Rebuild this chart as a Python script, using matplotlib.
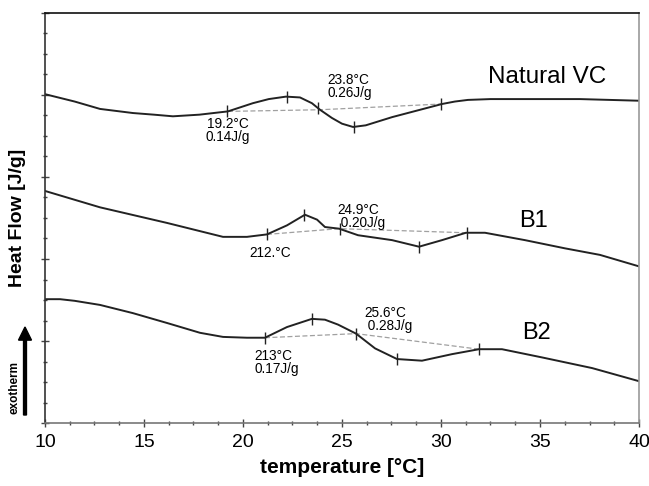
import numpy as np
import matplotlib
matplotlib.use("Agg")
import matplotlib.pyplot as plt
from matplotlib.ticker import MultipleLocator, NullFormatter

plt.rcParams['font.family'] = ['Liberation Sans', 'DejaVu Sans']

# DSC curves (temperature in degC, heat flow in arbitrary offset units)
nvc_t = [10, 11.5, 12.78, 14.44, 15.5, 16.46, 17.8, 19.24, 20.5, 21.3, 22.17, 22.88,
         23.48, 23.89, 24.49, 25.0, 25.56, 26.2, 27.53, 30.05, 30.7, 31.36, 32.5,
         34.24, 37.02, 40]
nvc_h = [4.01, 3.92, 3.83, 3.78, 3.76, 3.74, 3.76, 3.80, 3.90, 3.95, 3.98, 3.97,
         3.90, 3.82, 3.72, 3.65, 3.61, 3.63, 3.73, 3.89, 3.92, 3.94, 3.95,
         3.95, 3.95, 3.93]

b1_t = [10, 12.78, 16.16, 18.99, 20.2, 21.21, 22.22, 23.13, 23.74, 24.14, 24.85, 25.81,
        27.53, 28.89, 30.05, 31.26, 32.22, 34.24, 36.26, 38.03, 40]
b1_h = [2.83, 2.63, 2.44, 2.27, 2.27, 2.30, 2.41, 2.54, 2.48, 2.39, 2.37, 2.29,
        2.23, 2.15, 2.23, 2.32, 2.32, 2.23, 2.13, 2.05, 1.91]

b2_t = [10, 10.76, 11.5, 12.78, 14.44, 16.16, 17.83, 18.99, 20.2, 21.11, 22.22, 23.48,
        24.14, 24.8, 25.71, 26.67, 27.78, 29.04, 30.56, 31.92, 33.08, 35.1, 37.63, 40]
b2_h = [1.51, 1.51, 1.49, 1.44, 1.34, 1.22, 1.10, 1.05, 1.04, 1.04, 1.17, 1.27,
        1.26, 1.20, 1.09, 0.91, 0.78, 0.76, 0.84, 0.90, 0.90, 0.80, 0.67, 0.51]

# integration limits / peak marks
nvc_marks = [19.2, 22.2, 23.8, 25.6, 30.0]
b1_marks = [21.2, 23.1, 24.9, 28.9, 31.3]
b2_marks = [21.1, 23.5, 25.7, 27.8, 31.9]

# baselines
nvc_base_t = [19.24, 23.89, 30.05]
nvc_base_h = [3.80, 3.82, 3.89]
b1_base_t = [21.21, 24.85, 31.26]
b1_base_h = [2.30, 2.37, 2.32]
b2_base_t = [21.11, 25.71, 31.92]
b2_base_h = [1.04, 1.09, 0.90]

fig = plt.figure(figsize=(6.49, 4.86), dpi=100)
ax = fig.add_axes([0.0693, 0.1296, 0.9153, 0.8437])

line_col = '#222222'
for t, h, bt, bh, mk in [(nvc_t, nvc_h, nvc_base_t, nvc_base_h, nvc_marks),
                         (b1_t, b1_h, b1_base_t, b1_base_h, b1_marks),
                         (b2_t, b2_h, b2_base_t, b2_base_h, b2_marks)]:
    ax.plot(bt, bh, color='#a0a0a0', lw=0.9, ls=(0, (4, 2)))
    ax.plot(t, h, color=line_col, lw=1.4, solid_joinstyle='round')
    ax.plot(mk, np.interp(mk, t, h), ls='none', marker='|', ms=8, mew=1.0, color=line_col)

ax.set_xlim(10, 40)
ax.set_ylim(0, 5)
ax.xaxis.set_major_locator(MultipleLocator(5))
ax.xaxis.set_minor_locator(MultipleLocator(1.25))
ax.yaxis.set_major_locator(MultipleLocator(1))
ax.yaxis.set_minor_locator(MultipleLocator(0.25))
ax.yaxis.set_major_formatter(NullFormatter())
ax.tick_params(axis='both', which='major', direction='inout', length=6, width=1, colors='#444',
               labelsize=14, labelcolor='black', pad=5)
ax.tick_params(axis='both', which='minor', direction='inout', length=3, width=1, colors='#444')

ax.spines['left'].set_color('#333')
ax.spines['top'].set_color('#111')
ax.spines['right'].set_color('#999')
ax.spines['bottom'].set_color('#777')
for s in ax.spines.values():
    s.set_linewidth(1.2)

# sample labels
ax.text(35.35, 4.22, 'Natural VC', fontsize=17.5, ha='center', va='center')
ax.text(34.65, 2.46, 'B1', fontsize=17, ha='center', va='center')
ax.text(34.8, 1.10, 'B2', fontsize=17, ha='center', va='center')

# peak annotations
fs = 9.8
ls = 0.9
ax.text(19.24, 3.57, '19.2°C\n0.14J/g', fontsize=fs, ha='center', va='center', linespacing=ls)
ax.text(24.25, 4.10, '23.8°C\n0.26J/g', fontsize=fs, ha='left', va='center', linespacing=ls)
ax.text(24.75, 2.52, '24.9°C\n 0.20J/g', fontsize=fs, ha='left', va='center', linespacing=ls)
ax.text(21.36, 2.07, '212.°C', fontsize=fs, ha='center', va='center')
ax.text(20.56, 0.74, '213°C\n0.17J/g', fontsize=fs, ha='left', va='center', linespacing=ls)
ax.text(26.12, 1.26, '25.6°C\n 0.28J/g', fontsize=fs, ha='left', va='center', linespacing=ls)

ax.set_xlabel('temperature [°C]', fontsize=15, fontweight='bold', labelpad=5)
fig.text(18 / 649, 1 - 218 / 486, 'Heat Flow [J/g]', fontsize=14, fontweight='bold',
         rotation=90, ha='center', va='center')

# exotherm arrow
fig.patches.append(matplotlib.patches.FancyArrow(25 / 649, 1 - 415 / 486, 0, (415 - 327) / 486,
                                                 width=0.0045, head_width=0.02, head_length=0.027,
                                                 length_includes_head=True, color='black',
                                                 transform=fig.transFigure, figure=fig))
fig.text(14 / 649, 1 - 387 / 486, 'exotherm', fontsize=8.5, fontweight='bold',
         rotation=90, ha='center', va='center')

fig.savefig('out.png', dpi=100)
